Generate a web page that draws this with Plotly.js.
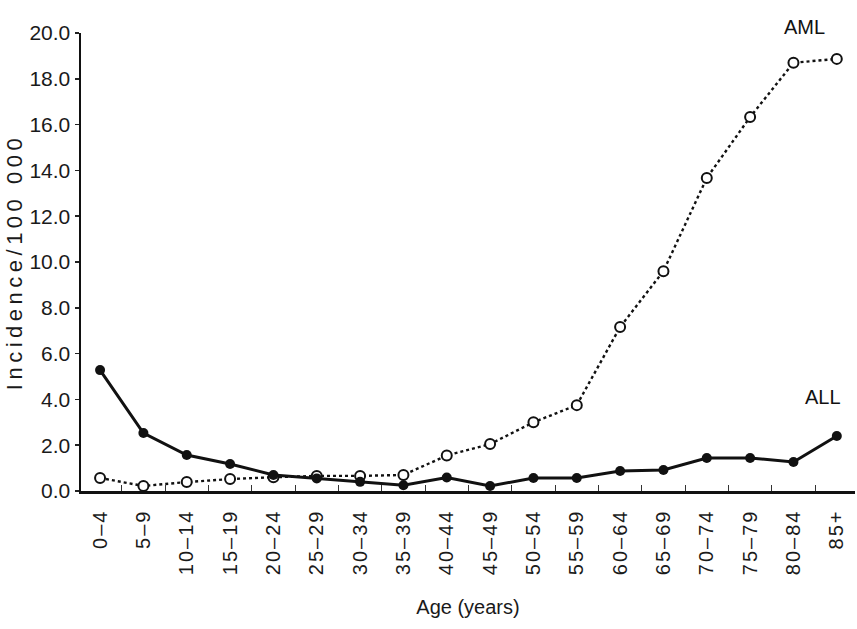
<!DOCTYPE html>
<html>
<head>
<meta charset="utf-8">
<script src="https://cdn.plot.ly/plotly-3.0.1.min.js"></script>
<style>
  html, body { margin: 0; padding: 0; background: #fff; }
  #chart { width: 857px; height: 629px; }
  .xtick text { letter-spacing: 2px; }
  .ytitle { letter-spacing: 4.5px; }
</style>
</head>
<body>
<div id="chart"></div>
<script>
const ageGroups = ["0–4","5–9","10–14","15–19","20–24","25–29","30–34","35–39","40–44","45–49","50–54","55–59","60–64","65–69","70–74","75–79","80–84","85+"];
const allValues = [5.28, 2.53, 1.57, 1.18, 0.7, 0.55, 0.4, 0.25, 0.59, 0.22, 0.57, 0.57, 0.87, 0.92, 1.44, 1.44, 1.27, 2.4];
const amlValues = [0.57, 0.22, 0.39, 0.52, 0.6, 0.66, 0.66, 0.7, 1.55, 2.05, 3.0, 3.75, 7.16, 9.6, 13.67, 16.33, 18.7, 18.87];
const yTickValues = [0, 2, 4, 6, 8, 10, 12, 14, 16, 18, 20];

const traces = [
  {
    x: ageGroups, y: amlValues, name: "AML", type: "scatter", mode: "lines+markers",
    line: { color: "#111", width: 2.4, dash: "dot" },
    marker: { symbol: "circle", size: 10, color: "#fff", line: { color: "#111", width: 2 } },
    cliponaxis: false
  },
  {
    x: ageGroups, y: allValues, name: "ALL", type: "scatter", mode: "lines+markers",
    line: { color: "#111", width: 3 },
    marker: { symbol: "circle", size: 10, color: "#111" },
    cliponaxis: false
  }
];

const layout = {
  width: 857, height: 629,
  margin: { l: 81, r: 2, t: 33, b: 138 },
  paper_bgcolor: "#fff", plot_bgcolor: "#fff",
  showlegend: false,
  font: { family: "Liberation Sans, Arial, sans-serif", color: "#222" },
  xaxis: {
    type: "category",
    range: [-0.44, 17.42],
    showgrid: false, zeroline: false,
    showline: true, linecolor: "#111", linewidth: 2.5,
    ticks: "inside", tickson: "boundaries", ticklen: 6, tickwidth: 1, tickcolor: "#333",
    tickangle: -90,
    tickfont: { family: "Liberation Sans, Arial, sans-serif", size: 20, color: "#1a1a1a" },
    ticklabelstandoff: 8,
    title: { text: "Age (years)", font: { family: "Liberation Sans Narrow, Arial Narrow, sans-serif", size: 20, color: "#1a1a1a" }, standoff: 26 }
  },
  yaxis: {
    range: [0, 20],
    tickvals: yTickValues,
    tickformat: ".1f",
    showgrid: false, zeroline: false,
    showline: true, linecolor: "#111", linewidth: 2.5,
    ticks: "outside", ticklen: 4, tickwidth: 1.5, tickcolor: "#222",
    tickfont: { family: "Liberation Sans Narrow, Arial Narrow, sans-serif", size: 21, color: "#1a1a1a" },
    title: { text: "Incidence/100 000", font: { family: "Liberation Sans, Arial, sans-serif", size: 22, color: "#1a1a1a" } }
  },
  annotations: [
    { x: 0.964, y: 1.013, xref: "paper", yref: "paper", yanchor: "middle", text: "AML", showarrow: false,
      font: { family: "Liberation Sans Narrow, Arial Narrow, sans-serif", size: 20, color: "#111" } },
    { x: 16.68, y: 4.1, xref: "x", yref: "y", text: "ALL", showarrow: false,
      font: { family: "Liberation Sans Narrow, Arial Narrow, sans-serif", size: 20, color: "#111" } }
  ]
};

Plotly.newPlot("chart", traces, layout, { displayModeBar: false, staticPlot: true });
</script>
</body>
</html>
